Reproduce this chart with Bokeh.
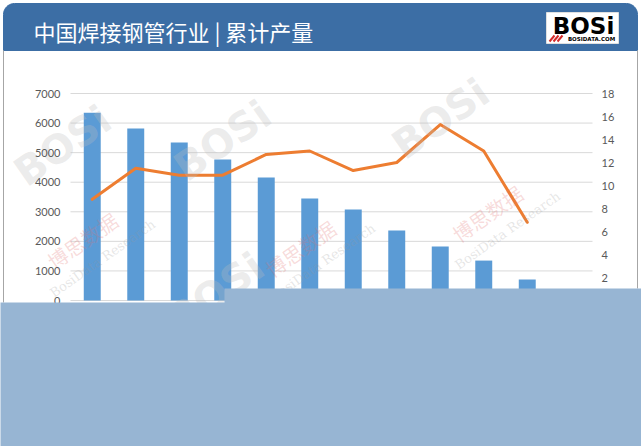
from bokeh.plotting import figure
from bokeh.models import Range1d, LinearAxis, FixedTicker, ColumnDataSource
from bokeh.embed import file_html
from bokeh.resources import INLINE
from bokeh.core.properties import value
import math

# ---------------- data ----------------
months = ["2023年12月", "2023年11月", "2023年10月", "2023年9月", "2023年8月", "2023年7月",
          "2023年6月", "2023年5月", "2023年4月", "2023年3月", "2023年2月", "2023年1月"]
output = [6350, 5820, 5340, 4770, 4160, 3450, 3080, 2370, 1830, 1350, 710]
growth = [8.8, 11.5, 10.9, 10.9, 12.7, 13.0, 11.3, 12.0, 15.3, 13.0, 6.8]
left_ticks = [0, 1000, 2000, 3000, 4000, 5000, 6000, 7000]
right_ticks = [2, 4, 6, 8, 10, 12, 14, 16, 18]
title_text = "中国焊接钢管行业 | 累计产量"

# ---------------- geometry / styles ----------------
W, H = 641, 446
PL, PR, PT, PB = 70, 592, 93, 300          # plot area in pixels
TITLE_BLUE = "#3C6EA5"
BAR = "#5B9BD5"
LINE = "#ED7D31"
OVER = "#97B5D3"
LABEL = "#595959"

n_slots = len(months)
cw = (PR - PL) / n_slots
lmax, rmax = left_ticks[-1], right_ticks[-1]
ppu = (PB - PT) / lmax

x_range = Range1d(-PL / cw, (W - PL) / cw)
y_range = Range1d(-(H - PB) / ppu, PB / ppu)
rate_range = Range1d(y_range.start * rmax / lmax, y_range.end * rmax / lmax)

p = figure(width=W, height=H, x_range=x_range, y_range=y_range, min_border=0,
           x_axis_location=None, y_axis_location=None,
           toolbar_location=None, output_backend="svg")
p.extra_y_ranges = {"rate": rate_range, "py": Range1d(H, 0)}
p.extra_x_ranges = {"px": Range1d(0, W)}
p.outline_line_color = None
p.background_fill_color = "white"
p.border_fill_color = "white"
p.grid.visible = False

# ---------------- title bar (decoration, pixel coords) ----------------
r = 11
xs, ys = [3], [50]
for k in range(0, 11):
    th = math.radians(180 + 9 * k)
    xs.append(3 + r + r * math.cos(th)); ys.append(3 + r + r * math.sin(th))
for k in range(0, 11):
    th = math.radians(270 + 9 * k)
    xs.append(637 - r + r * math.cos(th)); ys.append(3 + r + r * math.sin(th))
xs.append(637); ys.append(50)
p.patch(xs, ys, x_range_name="px", y_range_name="py", fill_color=TITLE_BLUE, line_color=TITLE_BLUE)
p.segment(x0=[3, 637], y0=[50, 50], x1=[3, 637], y1=[302, 288], x_range_name="px", y_range_name="py",
          line_color="#a6a6a6", line_width=1)
p.text(x=[33], y=[30], text=[title_text], x_range_name="px", y_range_name="py",
       text_font=value("Noto Sans CJK SC"), text_font_size=value("22px"),
       text_color="white", text_baseline="middle", text_align="left")
# logo
p.quad(left=[546], right=[618], top=[12], bottom=[43], x_range_name="px", y_range_name="py",
       fill_color="white", line_color="#e0e0e0")
p.text(x=[583], y=[25], text=["BOSi"], x_range_name="px", y_range_name="py",
       text_font=value("DejaVu Sans"), text_font_style="bold", text_font_size=value("23px"),
       text_color="black", text_align="center", text_baseline="middle")
p.text(x=[591], y=[38.5], text=["BOSIDATA.COM"], x_range_name="px", y_range_name="py",
       text_font=value("DejaVu Sans"), text_font_style="bold", text_font_size=value("5.5px"),
       text_color="black", text_align="center", text_baseline="middle")
p.segment(x0=[549, 553, 557], y0=[41, 41, 41], x1=[554, 558, 562], y1=[35, 35, 35],
          x_range_name="px", y_range_name="py", line_color="#d42a2a", line_width=2)

# ---------------- gridlines ----------------
p.segment(x0=[0] * len(left_ticks), x1=[n_slots] * len(left_ticks), y0=left_ticks, y1=left_ticks,
          line_color="#D9D9D9", line_width=1)

# ---------------- data marks ----------------
src_bar = ColumnDataSource(dict(x=[i + 0.5 for i in range(len(output))], v=output,
                                m=months[:len(output)]))
src_line = ColumnDataSource(dict(x=[i + 0.5 for i in range(len(growth))], g=growth,
                                 m=months[:len(growth)]))
p.vbar(x="x", top="v", width=0.39, source=src_bar, fill_color=BAR, line_color=None)
p.line(x="x", y="g", source=src_line, y_range_name="rate", line_color=LINE,
       line_width=3, line_join="round", line_cap="round")

# ---------------- axes ----------------
la = LinearAxis(ticker=FixedTicker(ticks=left_ticks), fixed_location=0, axis_line_color=None,
                major_tick_line_color=None, minor_tick_line_color=None,
                major_tick_out=0, major_tick_in=0, major_label_standoff=10,
                major_label_text_color=LABEL, major_label_text_font="Lato",
                major_label_text_font_size="11px")
p.add_layout(la, "left")
ra = LinearAxis(y_range_name="rate", ticker=FixedTicker(ticks=right_ticks), fixed_location=n_slots,
                axis_line_color=None, major_tick_line_color=None, minor_tick_line_color=None,
                major_tick_out=0, major_tick_in=0, major_label_standoff=9,
                major_label_text_color=LABEL, major_label_text_font="Lato",
                major_label_text_font_size="11px")
p.add_layout(ra, "right")

# ---------------- faint watermarks ----------------
ang = math.radians(35)
p.text(x=[62, 222, 440, 215], y=[145, 140, 118, 292], text=["BOSi"] * 4, angle=ang,
       x_range_name="px", y_range_name="py",
       text_font=value("DejaVu Sans"), text_font_style="bold", text_font_size=value("40px"),
       text_color="#bdbdbd", text_alpha=0.3, text_align="center", text_baseline="middle")
p.text(x=[82, 300, 487], y=[240, 248, 213], text=["博思数据"] * 3, angle=ang,
       x_range_name="px", y_range_name="py",
       text_font=value("Noto Sans CJK SC"), text_font_size=value("20px"),
       text_color="#e07070", text_alpha=0.25, text_align="center", text_baseline="middle")
p.text(x=[102, 322, 507], y=[258, 262, 230], text=["BosiData Research"] * 3, angle=ang,
       x_range_name="px", y_range_name="py",
       text_font=value("DejaVu Serif"), text_font_size=value("13px"),
       text_color="#9a9a9a", text_alpha=0.25, text_align="center", text_baseline="middle")

# ---------------- light blue cover (stepped) ----------------
cover = p.patch([0, 224, 224, W, W, 0], [302, 302, 288, 288, H, H],
                x_range_name="px", y_range_name="py", fill_color=OVER, line_color=None)
cover.level = "overlay"

open("out.html", "w").write(file_html(p, INLINE))
